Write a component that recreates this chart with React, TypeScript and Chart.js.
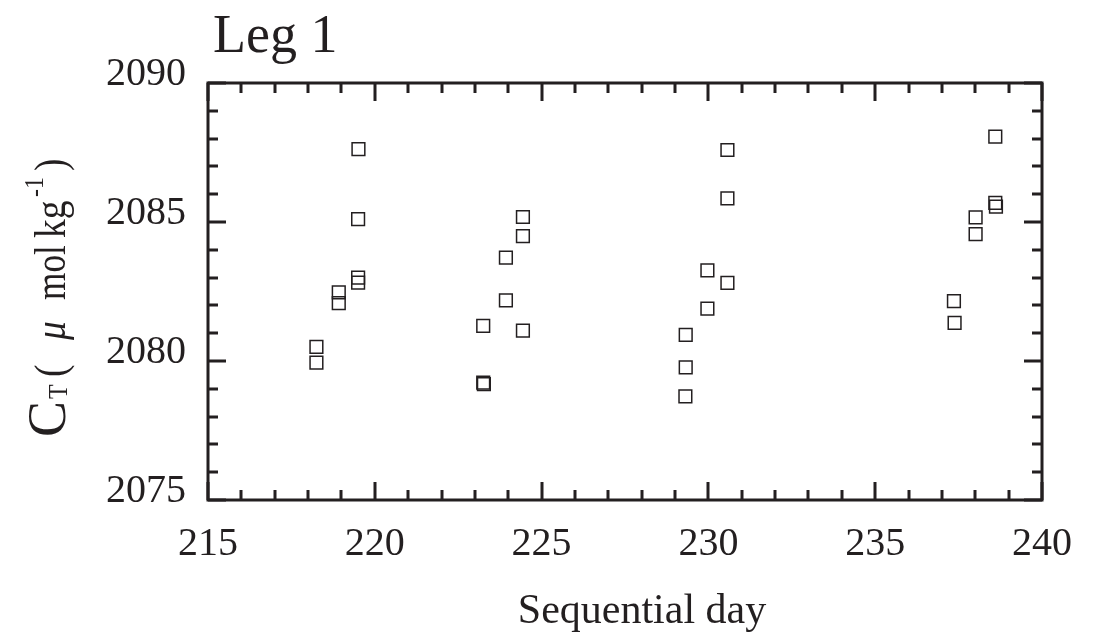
import React, { useEffect, useRef } from "react";
import { Chart, registerables } from "chart.js";

Chart.register(...registerables);

// Sequential day (x) and C_T in µmol/kg (y)
const days = [
  218.25, 218.25, 218.92, 218.92, 219.51, 219.5, 219.5, 219.5,
  223.25, 223.25, 223.27, 223.93, 223.93, 224.44, 224.44, 224.44,
  229.32, 229.32, 229.31, 229.97, 229.97, 230.57, 230.57, 230.57,
  237.36, 237.38, 238.01, 238.01, 238.6, 238.6, 238.62,
];
const ct = [
  2080.51, 2079.94, 2082.47, 2082.08, 2087.62, 2085.1, 2083.0, 2082.82,
  2081.26, 2079.22, 2079.17, 2083.72, 2082.18, 2085.18, 2084.49, 2081.09,
  2080.94, 2079.77, 2078.73, 2083.26, 2081.88, 2087.59, 2085.85, 2082.81,
  2082.15, 2081.37, 2085.17, 2084.56, 2088.07, 2085.69, 2085.55,
];
const xTickLabels = [215, 220, 225, 230, 235, 240];
const yTickLabels = [2075, 2080, 2085, 2090];
const xMinorStep = 1;
const yMinorStep = 1;

const titleText = "Leg 1";
const xTitle = "Sequential day";

const INK = "#231f20";
const SERIF = "'Liberation Serif', 'DejaVu Serif', serif";

const framePlugin = {
  id: "frame",
  afterDraw(chart: any) {
    const { ctx, chartArea } = chart;
    const { left, right, top, bottom } = chartArea;
    const xs = chart.scales.x;
    const ys = chart.scales.y;
    ctx.save();
    ctx.strokeStyle = INK;
    ctx.lineWidth = 3;
    ctx.lineCap = "butt";
    const xMin = xTickLabels[0];
    const xMax = xTickLabels[xTickLabels.length - 1];
    for (let v = xMin; v <= xMax + 1e-9; v += xMinorStep) {
      const major = xTickLabels.includes(Math.round(v));
      const len = major ? 18 : 10;
      const px = Math.round(xs.getPixelForValue(v));
      ctx.beginPath();
      ctx.moveTo(px, bottom);
      ctx.lineTo(px, bottom - len);
      ctx.moveTo(px, top);
      ctx.lineTo(px, top + len);
      ctx.stroke();
    }
    const yMin = yTickLabels[0];
    const yMax = yTickLabels[yTickLabels.length - 1];
    for (let v = yMin; v <= yMax + 1e-9; v += yMinorStep) {
      const major = yTickLabels.includes(Math.round(v));
      const len = major ? 18 : 10;
      const py = Math.round(ys.getPixelForValue(v));
      ctx.beginPath();
      ctx.moveTo(left, py);
      ctx.lineTo(left + len, py);
      ctx.moveTo(right, py);
      ctx.lineTo(right - len, py);
      ctx.stroke();
    }
    ctx.strokeRect(left, top, right - left, bottom - top);

    // chart title
    ctx.fillStyle = INK;
    ctx.textBaseline = "alphabetic";
    ctx.textAlign = "left";
    ctx.font = `54px ${SERIF}`;
    ctx.fillText(titleText, 213, 52);

    // x axis title
    ctx.textAlign = "center";
    ctx.font = `42px ${SERIF}`;
    ctx.fillText(xTitle, 642, 623);

    // y axis title (rotated)
    ctx.translate(65, 437);
    ctx.rotate(-Math.PI / 2);
    ctx.textAlign = "left";
    const pieces: [string, string, number, number, number][] = [
      ["C", `54px ${SERIF}`, 0, 0, 1],
      ["T", `28px ${SERIF}`, 38, 2, 0.85],
      ["(", `44px ${SERIF}`, 60, 0, 0.85],
      ["\u03bc", `italic 44px ${SERIF}`, 97, 0, 0.85],
      ["mol", `44px ${SERIF}`, 137, 0, 0.8],
      ["kg", `44px ${SERIF}`, 199, 0, 0.85],
      ["-1", `28px ${SERIF}`, 240, -22, 0.85],
      [")", `44px ${SERIF}`, 266, 0, 0.85],
    ];
    for (const [t, f, x, y, sx] of pieces) {
      ctx.save();
      ctx.translate(x, y);
      ctx.scale(sx, 1);
      ctx.font = f;
      ctx.fillText(t, 0, 0);
      ctx.restore();
    }
    ctx.restore();
  },
};

export default function App() {
  const ref = useRef<HTMLCanvasElement | null>(null);
  useEffect(() => {
    if (!ref.current) return;
    const chart = new Chart(ref.current, {
      type: "scatter",
      data: {
        datasets: [
          {
            data: days.map((d, i) => ({ x: d, y: ct[i] })),
            pointStyle: "rect",
            pointRadius: 9,
            pointHoverRadius: 9,
            borderWidth: 1.5,
            borderColor: INK,
            backgroundColor: "rgba(0,0,0,0)",
          },
        ],
      },
      plugins: [framePlugin],
      options: {
        responsive: false,
        animation: false,
        devicePixelRatio: 1,
        layout: { padding: { top: 83, right: 60, left: 0, bottom: 0 } },
        plugins: {
          legend: { display: false },
          tooltip: { enabled: false },
          title: { display: false },
        },
        scales: {
          x: {
            type: "linear",
            min: xTickLabels[0],
            max: xTickLabels[xTickLabels.length - 1],
            grid: { display: false, drawTicks: false },
            border: { display: false },
            afterBuildTicks: (s: any) => {
              s.ticks = xTickLabels.map((v) => ({ value: v }));
            },
            afterFit: (s: any) => {
              s.height = 133;
            },
            ticks: {
              color: INK,
              padding: 20,
              maxRotation: 0,
              autoSkip: false,
              font: { family: SERIF, size: 40 },
              callback: (v: any) => String(v),
            },
          },
          y: {
            type: "linear",
            min: yTickLabels[0],
            max: yTickLabels[yTickLabels.length - 1],
            grid: { display: false, drawTicks: false },
            border: { display: false },
            afterBuildTicks: (s: any) => {
              s.ticks = yTickLabels.map((v) => ({ value: v }));
            },
            afterFit: (s: any) => {
              s.width = 208;
            },
            ticks: {
              color: INK,
              padding: 22,
              labelOffset: -9,
              autoSkip: false,
              font: { family: SERIF, size: 40 },
              callback: (v: any) => String(v),
            },
          },
        },
      },
    });
    return () => chart.destroy();
  }, []);
  return (
    <div style={{ position: "fixed", left: 0, top: 0, width: 1102, height: 633, background: "#fff" }}>
      <canvas ref={ref} width={1102} height={633} style={{ display: "block" }} />
    </div>
  );
}
